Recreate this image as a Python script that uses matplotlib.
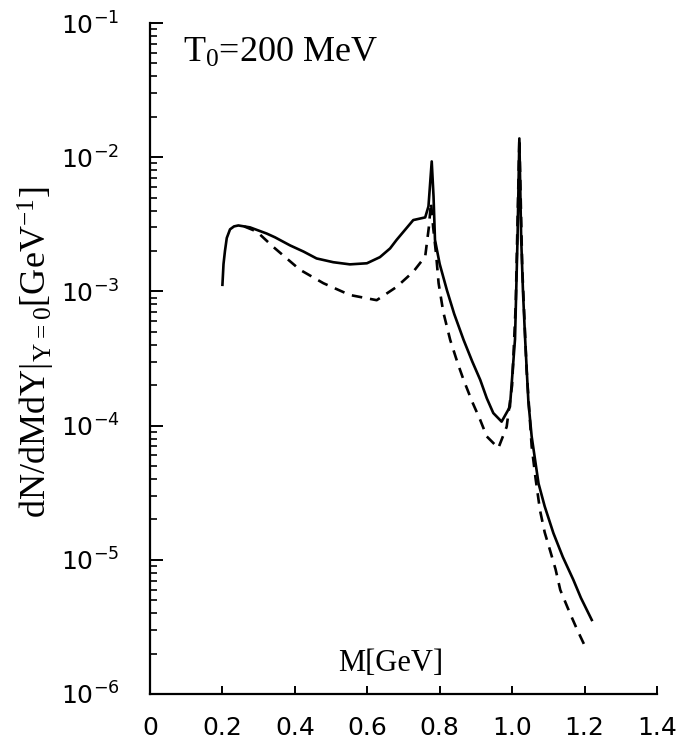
import numpy as np
import matplotlib
matplotlib.use('Agg')
from matplotlib import pyplot as plt
from matplotlib.ticker import FixedLocator, LogLocator, NullFormatter

plt.rcParams['mathtext.default'] = 'regular'

# solid curve
m_solid = [0.200, 0.203, 0.207, 0.212, 0.221, 0.232, 0.244, 0.276, 0.322, 0.345,
           0.387, 0.424, 0.460, 0.506, 0.552, 0.599, 0.635, 0.663, 0.681, 0.727,
           0.760, 0.769, 0.778, 0.783, 0.787, 0.800, 0.820, 0.840, 0.866, 0.890,
           0.912, 0.930, 0.948, 0.971, 0.994, 1.008, 1.015, 1.020, 1.025, 1.030,
           1.036, 1.045, 1.054, 1.073, 1.090, 1.114, 1.140, 1.169, 1.190, 1.220]
y_solid = [1.12e-3, 1.6e-3, 2.0e-3, 2.5e-3, 2.9e-3, 3.05e-3, 3.1e-3, 3.0e-3, 2.7e-3, 2.53e-3,
           2.2e-3, 1.98e-3, 1.76e-3, 1.65e-3, 1.59e-3, 1.62e-3, 1.8e-3, 2.09e-3, 2.42e-3, 3.4e-3,
           3.56e-3, 4.3e-3, 9.3e-3, 5.1e-3, 2.42e-3, 1.6e-3, 1.02e-3, 6.8e-4, 4.35e-4, 3.0e-4,
           2.19e-4, 1.6e-4, 1.24e-4, 1.07e-4, 1.38e-4, 4.4e-4, 2.5e-3, 1.38e-2, 2.5e-3, 1.0e-3,
           4.4e-4, 1.5e-4, 8.3e-5, 3.7e-5, 2.5e-5, 1.58e-5, 1.05e-5, 7.1e-6, 5.2e-6, 3.56e-6]

# dashed curve
m_dash = [0.260, 0.295, 0.340, 0.414, 0.479, 0.552, 0.626, 0.681, 0.727, 0.760,
          0.770, 0.776, 0.782, 0.790, 0.797, 0.810, 0.829, 0.850, 0.866, 0.890,
          0.912, 0.930, 0.962, 0.985, 1.000, 1.010, 1.020, 1.028, 1.040, 1.054,
          1.065, 1.077, 1.090, 1.105, 1.120, 1.133, 1.160, 1.180, 1.206]
y_dash = [3.05e-3, 2.79e-3, 2.15e-3, 1.45e-3, 1.15e-3, 9.4e-4, 8.6e-4, 1.08e-3, 1.40e-3, 1.82e-3,
          3.0e-3, 4.6e-3, 3.0e-3, 1.9e-3, 1.15e-3, 7.0e-4, 4.35e-4, 2.9e-4, 2.19e-4, 1.5e-4,
          1.10e-4, 8.3e-5, 6.8e-5, 9.8e-5, 2.0e-4, 8.0e-4, 1.38e-2, 1.5e-3, 2.6e-4, 7.0e-5,
          4.0e-5, 2.34e-5, 1.6e-5, 1.17e-5, 8.5e-6, 5.96e-6, 3.98e-6, 3.0e-6, 2.13e-6]

x_ticks = [0, 0.2, 0.4, 0.6, 0.8, 1.0, 1.2, 1.4]
x_ticklabels = ['0', '0.2', '0.4', '0.6', '0.8', '1.0', '1.2', '1.4']
y_ticks = [1e-6, 1e-5, 1e-4, 1e-3, 1e-2, 1e-1]
y_ticklabels = ['10$^{-6}$', '10$^{-5}$', '10$^{-4}$', '10$^{-3}$', '10$^{-2}$', '10$^{-1}$']

fig = plt.figure(figsize=(6.8, 7.47), dpi=100)
ax = fig.add_axes([0.2206, 0.0710, 0.7455, 0.8982])

ax.plot(m_solid, y_solid, color='black', lw=1.9)
ax.plot(m_dash, y_dash, color='black', lw=1.9, ls=(0, (4, 3)))

ax.set_yscale('log')
ax.set_xlim(0, 1.4)
ax.set_ylim(1e-6, 1e-1)

ax.spines['top'].set_visible(False)
ax.spines['right'].set_visible(False)
ax.spines['left'].set_linewidth(1.6)
ax.spines['bottom'].set_linewidth(1.6)

ax.xaxis.set_major_locator(FixedLocator(x_ticks))
ax.set_xticklabels(x_ticklabels)
ax.yaxis.set_major_locator(FixedLocator(y_ticks))
ax.set_yticklabels(y_ticklabels)
ax.yaxis.set_minor_locator(LogLocator(base=10, subs=np.arange(2, 10), numticks=20))
ax.yaxis.set_minor_formatter(NullFormatter())

ax.tick_params(axis='x', which='major', direction='in', length=6, width=1.4,
               labelsize=18, pad=16, top=False)
ax.tick_params(axis='y', which='major', direction='in', length=9, width=1.4,
               labelsize=18, pad=22, right=False)
ax.tick_params(axis='y', which='minor', direction='in', length=5, width=1.2, right=False)

serif = ['Liberation Serif', 'DejaVu Serif']
fig.text(47 / 680, 1 - 352 / 747, 'dN/dMdY|$_{Y=0}$[GeV$^{-1}$]', family=serif,
         fontsize=26, rotation=90, rotation_mode='anchor', ha='center', va='baseline')

ax.text(0.065, 0.955, 'T$_0$=200 MeV', transform=ax.transAxes, family=serif,
        fontsize=26, ha='left', va='center')
ax.text(0.475, 0.045, 'M[GeV]', transform=ax.transAxes, family=serif,
        fontsize=22, ha='center', va='center')

fig.savefig('out.png', dpi=100)
